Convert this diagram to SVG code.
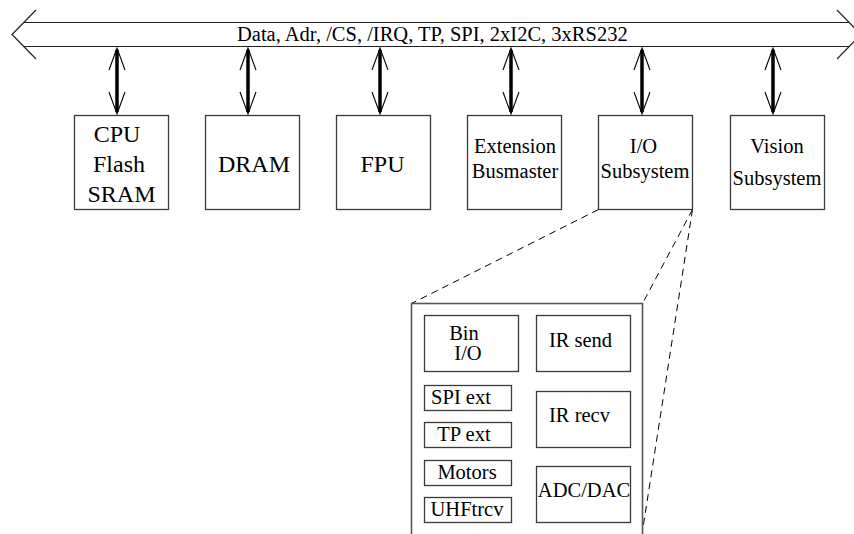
<svg xmlns="http://www.w3.org/2000/svg" width="854" height="534" viewBox="0 0 854 534">
<defs>
<style>
text{font-family:"Liberation Serif","Times New Roman",serif;fill:#000;text-anchor:middle}
.big{font-size:24px}
.med{font-size:20.5px}
.box{fill:#fff;stroke:#3a3a3a;stroke-width:1.3}
.bus{fill:none;stroke:#222;stroke-width:1.2}
.shaft{stroke:#000;stroke-width:3.5}
.wing{fill:none;stroke:#000;stroke-width:1.1}
.dash{fill:none;stroke:#000;stroke-width:1;stroke-dasharray:7 5}
</style>
</defs>
<rect width="854" height="534" fill="#fff"/>
<g id="bus">
<polygon points="24,22.5 849,22.5 849,46.5 24,46.5" fill="#fff"/>
<line class="bus" x1="24" y1="22.5" x2="849" y2="22.5"/>
<line class="bus" x1="24" y1="46.5" x2="849" y2="46.5"/>
<polyline class="bus" points="36,10 12,34.5 36,59"/>
<polyline class="bus" points="837,10 861,34.5 837,59"/>
<text x="237" y="40.5" style="font-size:20.5px;text-anchor:start">Data, Adr, /CS, /IRQ, TP, SPI, 2xI2C, 3xRS232</text>
</g>
<g id="connectors">
<g id="c1"><line class="shaft" x1="117" y1="50" x2="117" y2="112"/><polyline class="wing" points="109,70 117,48 125,70"/><polyline class="wing" points="109,92 117,114 125,92"/></g>
<g id="c2"><line class="shaft" x1="248" y1="50" x2="248" y2="112"/><polyline class="wing" points="240,70 248,48 256,70"/><polyline class="wing" points="240,92 248,114 256,92"/></g>
<g id="c3"><line class="shaft" x1="380" y1="50" x2="380" y2="112"/><polyline class="wing" points="372,70 380,48 388,70"/><polyline class="wing" points="372,92 380,114 388,92"/></g>
<g id="c4"><line class="shaft" x1="511" y1="50" x2="511" y2="112"/><polyline class="wing" points="503,70 511,48 519,70"/><polyline class="wing" points="503,92 511,114 519,92"/></g>
<g id="c5"><line class="shaft" x1="642" y1="50" x2="642" y2="112"/><polyline class="wing" points="634,70 642,48 650,70"/><polyline class="wing" points="634,92 642,114 650,92"/></g>
<g id="c6"><line class="shaft" x1="773" y1="50" x2="773" y2="112"/><polyline class="wing" points="765,70 773,48 781,70"/><polyline class="wing" points="765,92 773,114 781,92"/></g>
<line class="dash" x1="598.5" y1="209.5" x2="411.5" y2="303.5"/>
<line class="dash" x1="692.5" y1="209.5" x2="642.5" y2="303.5"/>
<line class="dash" x1="692.5" y1="209.5" x2="642.5" y2="531"/>
</g>
<g id="cpu"><rect class="box" x="74.5" y="115.5" width="94" height="94"/>
<text class="big" x="117" y="142">CPU</text><text class="big" x="119" y="172">Flash</text><text class="big" x="121.5" y="202">SRAM</text></g>
<g id="dram"><rect class="box" x="205.5" y="115.5" width="94" height="94"/>
<text class="big" x="254" y="172">DRAM</text></g>
<g id="fpu"><rect class="box" x="336.5" y="115.5" width="94" height="94"/>
<text class="big" x="382.5" y="172">FPU</text></g>
<g id="ext"><rect class="box" x="467.5" y="115.5" width="94" height="94"/>
<text class="med" x="515" y="153">Extension</text><text class="med" x="515" y="178">Busmaster</text></g>
<g id="io"><rect class="box" x="598.5" y="115.5" width="94" height="94"/>
<text class="med" x="643.5" y="153">I/O</text><text class="med" x="645" y="178">Subsystem</text></g>
<g id="vision"><rect class="box" x="730.5" y="115.5" width="94" height="94"/>
<text class="med" x="777" y="153">Vision</text><text class="med" x="777" y="185">Subsystem</text></g>
<g id="io-detail"><rect x="411.5" y="303.5" width="231" height="250" fill="none" stroke="#555" stroke-width="1.6"/></g>
<g id="binio"><rect class="box" x="424.5" y="315.5" width="94" height="56"/>
<text class="med" x="464" y="340">Bin</text><text class="med" x="468" y="360">I/O</text></g>
<g id="irsend"><rect class="box" x="536.5" y="315.5" width="94" height="56"/>
<text class="med" x="580.5" y="347">IR send</text></g>
<g id="spiext"><rect class="box" x="424.5" y="385.5" width="87" height="25"/>
<text class="med" x="461" y="403.5">SPI ext</text></g>
<g id="tpext"><rect class="box" x="424.5" y="422.5" width="87" height="25"/>
<text class="med" x="464" y="441">TP ext</text></g>
<g id="motors"><rect class="box" x="424.5" y="460.5" width="87" height="25"/>
<text class="med" x="467" y="478.5">Motors</text></g>
<g id="uhf"><rect class="box" x="424.5" y="497.5" width="87" height="25"/>
<text class="med" x="467" y="516">UHFtrcv</text></g>
<g id="irrecv"><rect class="box" x="536.5" y="391.5" width="94" height="56"/>
<text class="med" x="579.5" y="422">IR recv</text></g>
<g id="adc"><rect class="box" x="536.5" y="466.5" width="94" height="56"/>
<text class="med" x="584" y="497">ADC/DAC</text></g>
</svg>
